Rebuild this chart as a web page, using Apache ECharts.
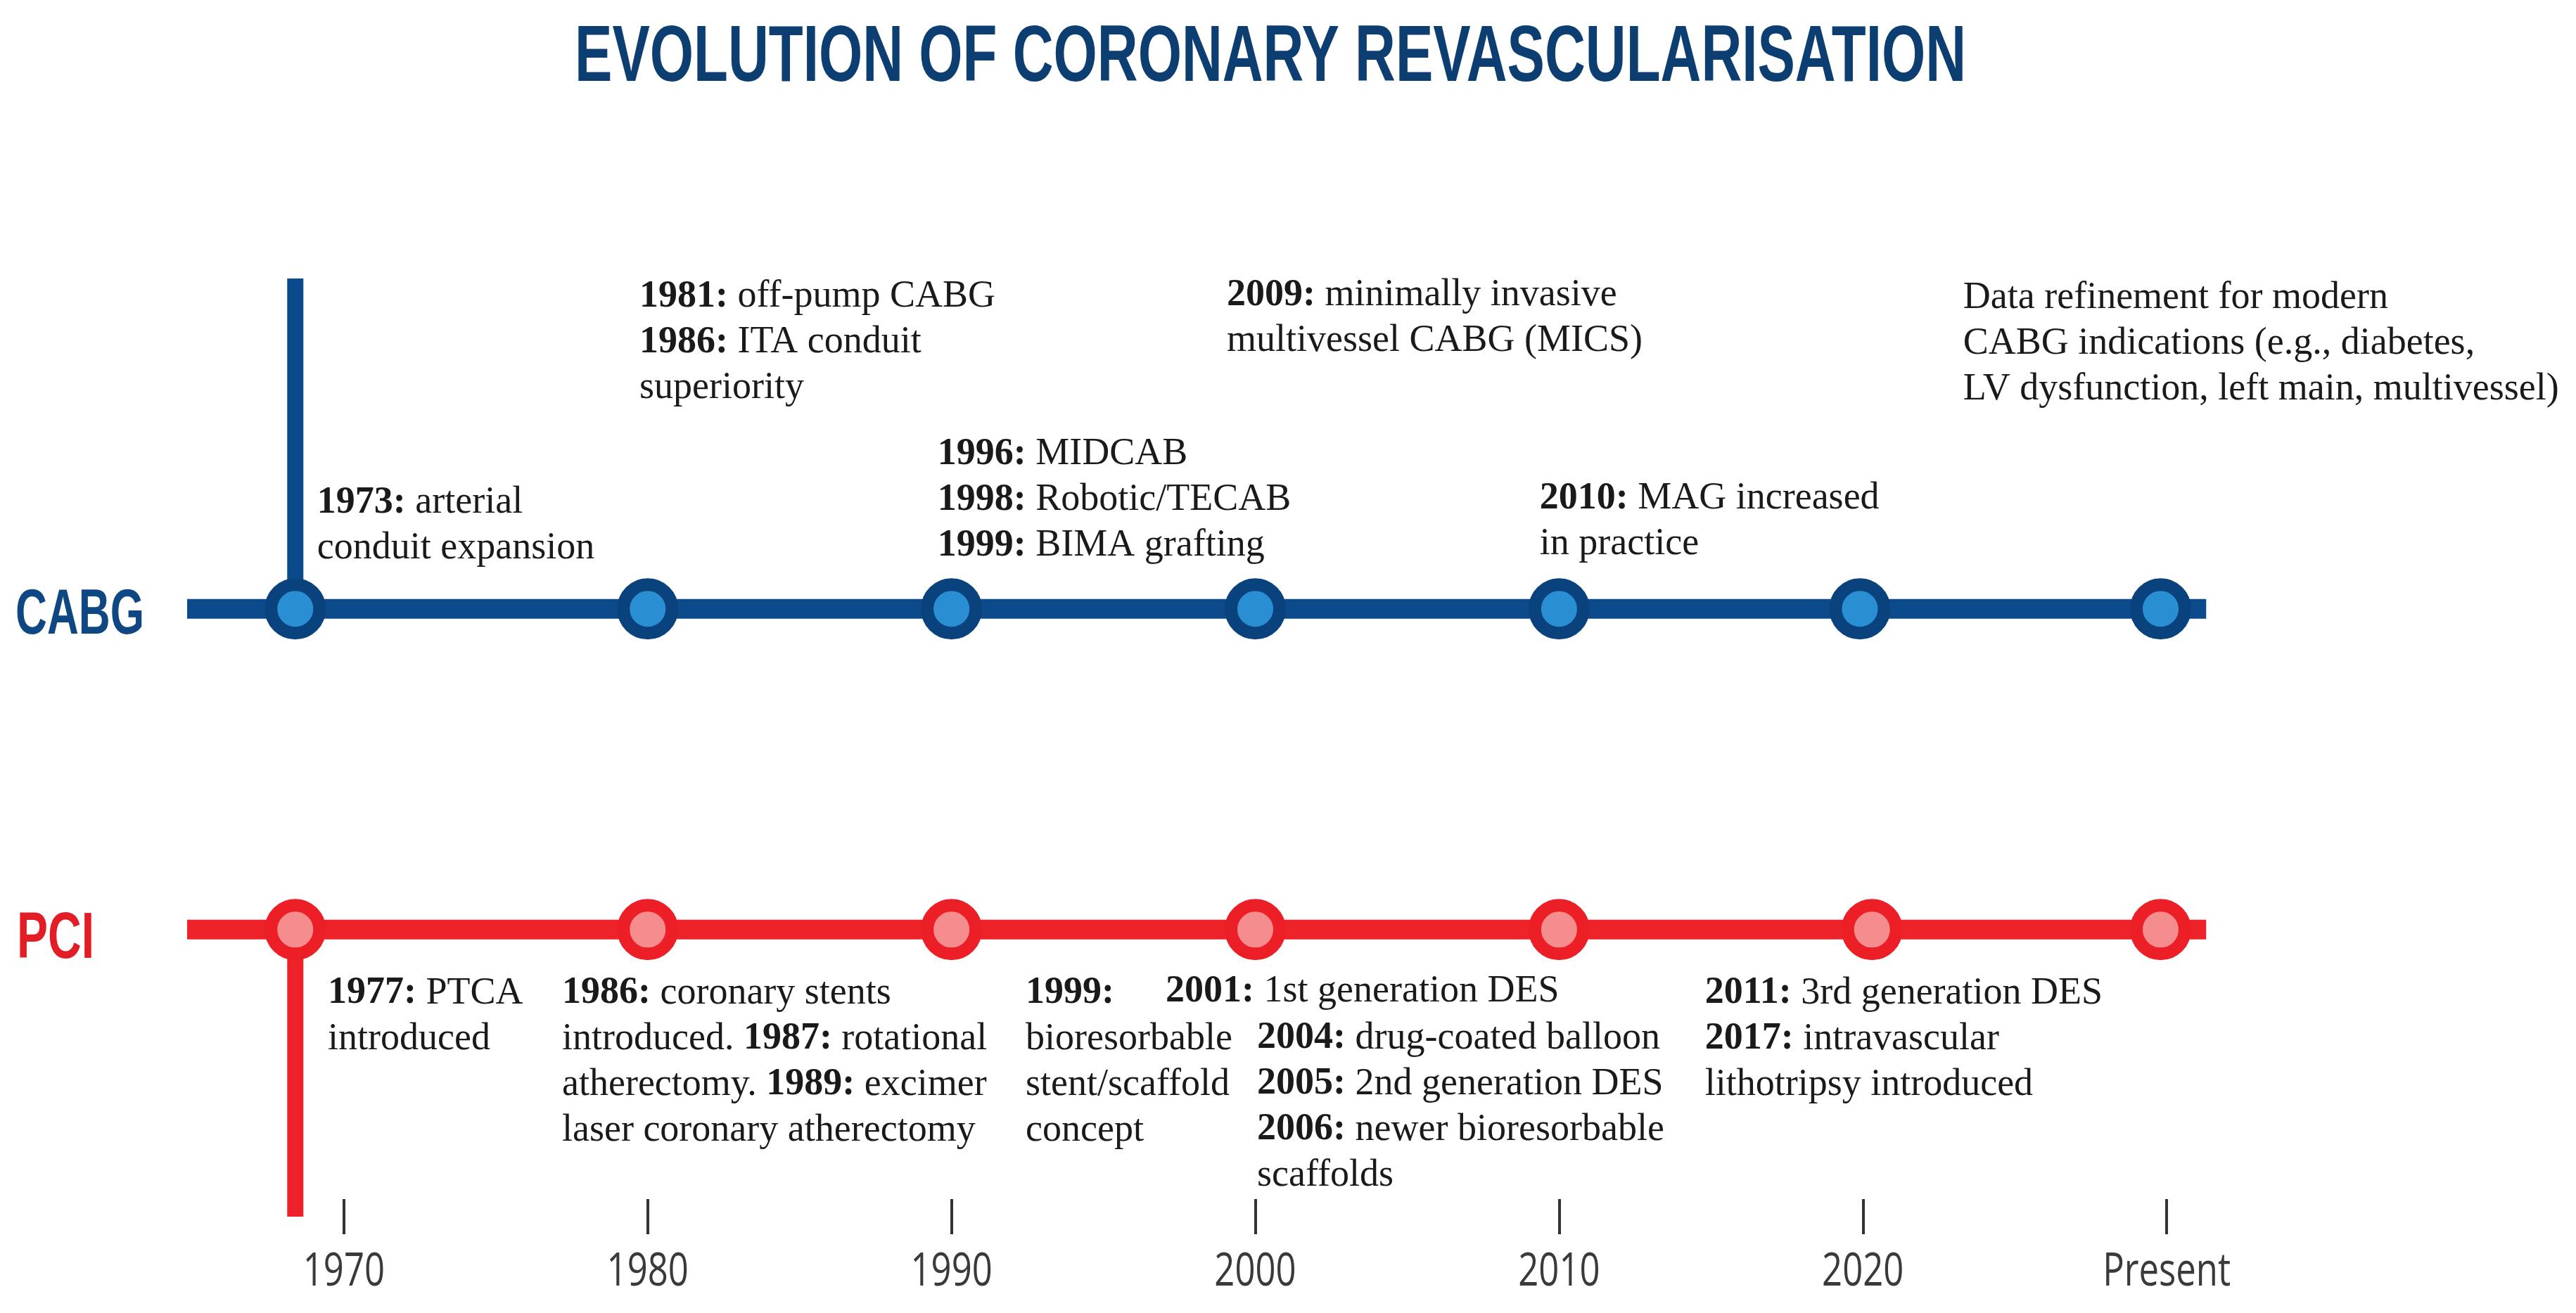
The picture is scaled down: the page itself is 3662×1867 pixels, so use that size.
<!DOCTYPE html>
<html>
<head>
<meta charset="utf-8">
<title>Evolution of coronary revascularisation</title>
<script src="https://cdn.jsdelivr.net/npm/echarts@6/dist/echarts.min.js"></script>
<style>
  html, body { margin: 0; padding: 0; background: #ffffff; }
  #chart { width: 3662px; height: 1867px; }
</style>
</head>
<body>
<div id="chart"></div>
<script>
// axis ticks (Present sits on 2030)
var decadeTicks = [1970, 1980, 1990, 2000, 2010, 2020, 2030];
var tickLabels = ['1970', '1980', '1990', '2000', '2010', '2020', 'Present'];

// track levels on the y scale
var PCI_Y = 1;
var CABG_Y = 2;
var TICK_LABEL_Y = -0.07;

// track extents and stems (years)
var trackStart = 1964.84;
var trackEnd = 2031.3;
var stemYear = 1968.4;
var cabgStemTop = 3.03;
var pciStemBottom = 0.105;

// milestone nodes
var cabgNodes = [1968.4, 1980, 1990, 2000, 2010, 2019.9, 2029.8];
var pciNodes = [1968.4, 1980, 1990, 2000, 2010, 2020.3, 2029.8];

// annotation anchors [year of left edge, y of first baseline]
var cabgNoteAnchors = [[1969.12, 2.292], [1979.73, 2.934], [1989.54, 2.443], [1999.06, 2.939], [2009.36, 2.305], [2023.3, 2.93]];
var cabgNoteLines = [
  ['1973: arterial', 'conduit expansion'],
  ['1981: off-pump CABG', '1986: ITA conduit', 'superiority'],
  ['1996: MIDCAB', '1998: Robotic/TECAB', '1999: BIMA grafting'],
  ['2009: minimally invasive', 'multivessel CABG (MICS)'],
  ['2010: MAG increased', 'in practice'],
  ['Data refinement for modern', 'CABG indications (e.g., diabetes,', 'LV dysfunction, left main, multivessel)']
];
var pciNoteAnchors = [[1969.47, 0.763], [1977.18, 0.763], [1992.44, 0.763], [1997.05, 0.768], [2000.06, 0.623], [2014.8, 0.763]];
var pciNoteLines = [
  ['1977: PTCA', 'introduced'],
  ['1986: coronary stents', 'introduced. 1987: rotational', 'atherectomy. 1989: excimer', 'laser coronary atherectomy'],
  ['1999:', 'bioresorbable', 'stent/scaffold', 'concept'],
  ['2001: 1st generation DES'],
  ['2004: drug-coated balloon', '2005: 2nd generation DES', '2006: newer bioresorbable', 'scaffolds'],
  ['2011: 3rd generation DES', '2017: intravascular', 'lithotripsy introduced']
];

var BLUE_LINE = '#0c4a8b';
var BLUE_RING = '#0a427e';
var BLUE_CORE = '#2a8fd2';
var RED_LINE = '#ee2229';
var RED_RING = '#ec1f27';
var RED_CORE = '#f58c8e';
var NAVY = '#0d3e72';

var SERIF = '"Liberation Serif", "Times New Roman", serif';
var SANS = '"Liberation Sans", Arial, sans-serif';
var LABEL_SANS = '"Open Sans", "Liberation Sans", sans-serif';

// squeeze a string to the width it has in the picture
function fitScale(text, font, target) {
  var ctx = document.createElement('canvas').getContext('2d');
  ctx.font = font;
  return target / ctx.measureText(text).width;
}

function toRich(lines) {
  return lines.map(function (line) {
    return line.split(/(\d{4}:)/).map(function (part, i) {
      if (!part) return '';
      return (i % 2 ? '{b|' : '{n|') + part + '}';
    }).join('');
  }).join('\n');
}

var noteRich = {
  b: { fontFamily: SERIF, fontSize: 54, fontWeight: 'bold', lineHeight: 65, fill: '#1a1a1a' },
  n: { fontFamily: SERIF, fontSize: 54, fontWeight: 'normal', lineHeight: 65, fill: '#1a1a1a' }
};

function noteSeries(anchors, lines) {
  return {
    type: 'custom',
    coordinateSystem: 'cartesian2d',
    silent: true,
    clip: false,
    z: 5,
    data: anchors.map(function (a, i) { return [a[0], a[1], i]; }),
    renderItem: function (params, api) {
      var p = api.coord([api.value(0), api.value(1)]);
      return {
        type: 'text',
        x: p[0],
        y: p[1] - 50,
        style: {
          text: toRich(lines[api.value(2)]),
          align: 'left',
          verticalAlign: 'top',
          rich: noteRich
        }
      };
    }
  };
}

// tick labels drawn narrow, the way the picture sets them
var tickLabelScale = fitScale('Present', '65px ' + LABEL_SANS, 182);
var tickLabelSeries = {
  type: 'custom',
  coordinateSystem: 'cartesian2d',
  silent: true,
  clip: false,
  z: 4,
  data: decadeTicks.map(function (v, i) { return [v, TICK_LABEL_Y, i]; }),
  renderItem: function (params, api) {
    var p = api.coord([api.value(0), api.value(1)]);
    return {
      type: 'text',
      x: p[0],
      y: p[1],
      scaleX: tickLabelScale,
      style: {
        text: tickLabels[api.value(2)],
        fill: '#3a3a3a',
        fontSize: 65,
        fontFamily: LABEL_SANS,
        align: 'center',
        verticalAlign: 'middle'
      }
    };
  }
};

function trackLine(y, color) {
  return {
    type: 'line', silent: true, clip: false, z: 2, symbol: 'none',
    data: [[trackStart, y], [trackEnd, y]],
    lineStyle: { color: color, width: 28, cap: 'butt' }
  };
}

function stemLine(y0, y1, color) {
  return {
    type: 'line', silent: true, clip: false, z: 2, symbol: 'none',
    data: [[stemYear, y0], [stemYear, y1]],
    lineStyle: { color: color, width: 23, cap: 'butt' }
  };
}

function nodeSeries(years, y, core, ring) {
  return {
    type: 'scatter', silent: true, clip: false, z: 3,
    symbol: 'circle', symbolSize: 69,
    data: years.map(function (x) { return [x, y]; }),
    itemStyle: { color: core, borderColor: ring, borderWidth: 18, opacity: 1 }
  };
}

var titleText = 'EVOLUTION OF CORONARY REVASCULARISATION';

var chart = echarts.init(document.getElementById('chart'));
chart.setOption({
  backgroundColor: '#ffffff',
  animation: false,
  grid: { left: 57, right: 150, top: 364, bottom: 162, containLabel: false },
  xAxis: {
    type: 'value', min: 1960, max: 2040,
    axisLine: { show: false },
    splitLine: { show: false },
    axisTick: {
      show: true, customValues: decadeTicks, length: 50, inside: false,
      lineStyle: { color: '#333333', width: 4 }
    },
    axisLabel: { show: false }
  },
  yAxis: { type: 'value', min: 0.16, max: 3.1, show: false, splitLine: { show: false } },
  graphic: [
    {
      type: 'text', x: 1806, y: 84, scaleX: fitScale(titleText, 'bold 114px ' + SANS, 1978),
      style: { text: titleText, fill: NAVY, fontSize: 114, fontWeight: 'bold', fontFamily: SANS, align: 'center', verticalAlign: 'middle' }
    },
    {
      type: 'text', x: 22, y: 876, scaleX: fitScale('CABG', 'bold 90px ' + SANS, 183),
      style: { text: 'CABG', fill: '#0f4782', fontSize: 90, fontWeight: 'bold', fontFamily: SANS, align: 'left', verticalAlign: 'middle' }
    },
    {
      type: 'text', x: 24, y: 1336, scaleX: fitScale('PCI', 'bold 93px ' + SANS, 110),
      style: { text: 'PCI', fill: '#e31d26', fontSize: 93, fontWeight: 'bold', fontFamily: SANS, align: 'left', verticalAlign: 'middle' }
    }
  ],
  series: [
    trackLine(CABG_Y, BLUE_LINE),
    stemLine(CABG_Y, cabgStemTop, BLUE_LINE),
    trackLine(PCI_Y, RED_LINE),
    stemLine(PCI_Y, pciStemBottom, RED_LINE),
    nodeSeries(cabgNodes, CABG_Y, BLUE_CORE, BLUE_RING),
    nodeSeries(pciNodes, PCI_Y, RED_CORE, RED_RING),
    noteSeries(cabgNoteAnchors, cabgNoteLines),
    noteSeries(pciNoteAnchors, pciNoteLines),
    tickLabelSeries
  ]
});
</script>
</body>
</html>
